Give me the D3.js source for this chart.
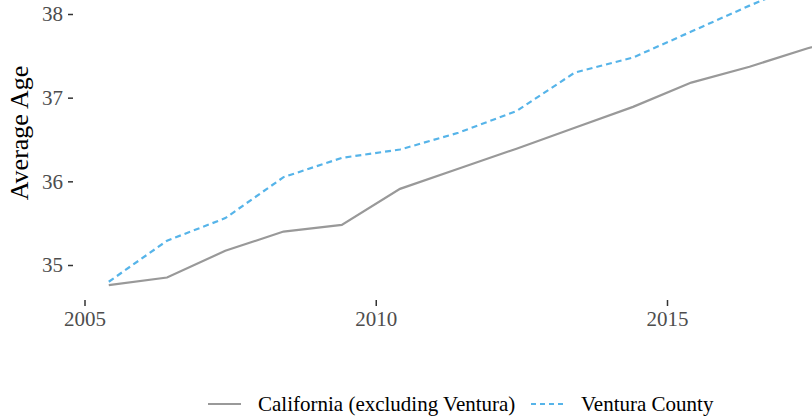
<!DOCTYPE html>
<html>
<head>
<meta charset="utf-8">
<script src="https://cdn.jsdelivr.net/npm/d3@7"></script>
<style>
  body { margin: 0; background: #fff; }
  svg { display: block; font-family: "Liberation Serif", "DejaVu Serif", serif; }
</style>
</head>
<body>
<svg id="chart" width="812" height="416"></svg>
<script>
// ===== DATA =====
const years = [2005, 2006, 2007, 2008, 2009, 2010, 2011, 2012, 2013, 2014, 2015, 2016, 2017, 2018];
const california = [34.76, 34.85, 35.17, 35.40, 35.48, 35.91, 36.15, 36.39, 36.64, 36.89, 37.18, 37.37, 37.59, 37.80];
const ventura = [34.80, 35.29, 35.56, 36.05, 36.28, 36.38, 36.58, 36.84, 37.30, 37.48, 37.79, 38.10, 38.39, 38.65];
const yTicks = [35, 36, 37, 38];
const xTicks = [2005, 2010, 2015];
const seriesNames = ['California (excluding Ventura)', 'Ventura County'];

// observations are taken around June of each year
const yearOffset = 5 / 12;

const svg = d3.select('#chart');
const width = 812, height = 416;

const x = d3.scaleLinear().domain([2005, 2015]).range([84.5, 667]);
const y = d3.scaleLinear().domain([35, 38]).range([265, 14]);

const series = [
    { name: seriesNames[0], values: california, color: '#999999', dash: null },
    { name: seriesNames[1], values: ventura, color: '#56B4E9', dash: '6,4' }
];

const line = d3.line()
    .x((d, i) => x(years[i] + yearOffset))
    .y(d => y(d));

// ===== AXES =====
const yAxisG = svg.append('g')
    .attr('transform', 'translate(73,0)')
    .call(d3.axisLeft(y).tickValues(yTicks).tickSize(5).tickPadding(5).tickFormat(d3.format('d')));

const xAxisG = svg.append('g')
    .attr('transform', 'translate(0,300)')
    .call(d3.axisBottom(x).tickValues(xTicks).tickSize(6).tickPadding(5).tickFormat(d3.format('d')));

[yAxisG, xAxisG].forEach(g => {
    g.select('.domain').remove();
    g.selectAll('line').attr('stroke', '#333333').attr('stroke-width', 1.5);
    g.selectAll('text')
        .attr('fill', '#4d4d4d')
        .style('font-family', '"Liberation Serif", serif')
        .style('font-size', '21px');
});

svg.append('text')
    .attr('transform', `translate(28,133) rotate(-90)`)
    .attr('text-anchor', 'middle')
    .attr('fill', '#000')
    .style('font-size', '26px')
    .text('Average Age');

// ===== LINES =====
svg.append('clipPath').attr('id', 'panel')
    .append('rect').attr('x', 73).attr('y', -40).attr('width', width).attr('height', 340);

svg.append('g').attr('clip-path', 'url(#panel)')
    .selectAll('path')
    .data(series)
    .join('path')
    .attr('d', d => line(d.values))
    .attr('fill', 'none')
    .attr('stroke', d => d.color)
    .attr('stroke-width', 2.2)
    .attr('stroke-dasharray', d => d.dash);

// ===== LEGEND =====
const legend = svg.append('g').attr('transform', 'translate(0,404)');
const keyX = [208, 531];
const textX = [258, 581];

series.forEach((s, i) => {
    legend.append('line')
        .attr('x1', keyX[i]).attr('x2', keyX[i] + 33)
        .attr('y1', 0).attr('y2', 0)
        .attr('stroke', s.color)
        .attr('stroke-width', 2.2)
        .attr('stroke-dasharray', s.dash ? '5,4' : null);
    legend.append('text')
        .attr('x', textX[i])
        .attr('y', 7)
        .attr('fill', '#000')
        .style('font-size', '21px')
        .text(s.name);
});
</script>
</body>
</html>
